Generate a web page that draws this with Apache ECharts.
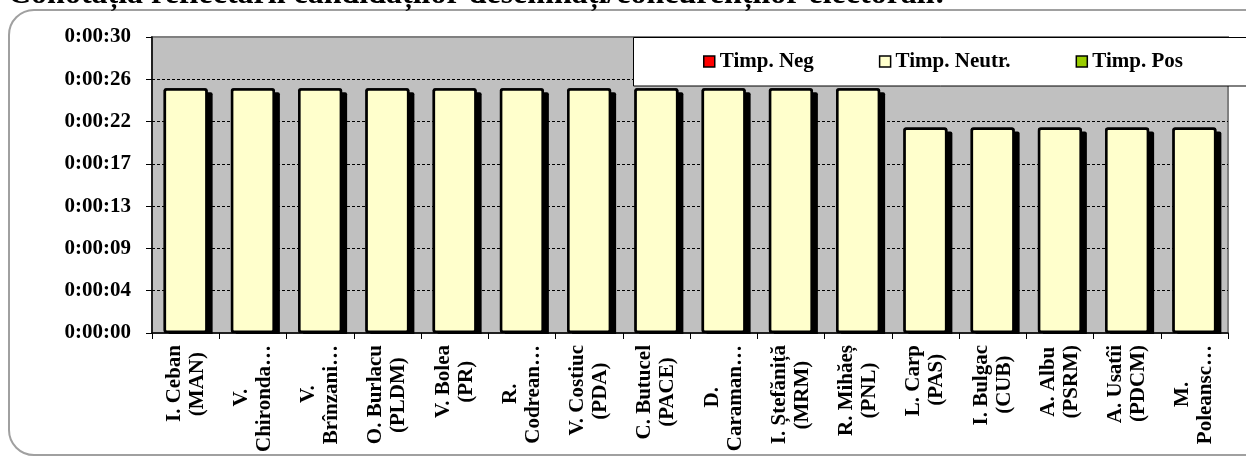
<!DOCTYPE html>
<html>
<head>
<meta charset="utf-8">
<script src="https://cdn.jsdelivr.net/npm/echarts@6/dist/echarts.min.js"></script>
<style>
html,body{margin:0;padding:0;background:#fff;}
#chart{width:1246px;height:456px;}
</style>
</head>
<body>
<div id="chart"></div>
<script>
var titleText = 'Conotația reflectării candidaților desemnați/concurenților electorali:';
var categories = [
  'I. Ceban\n(MAN)', 'V.\nChironda…', 'V.\nBrînzani…', 'O. Burlacu\n(PLDM)',
  'V. Bolea\n(PR)', 'R.\nCodrean…', 'V. Costiuc\n(PDA)', 'C. Butucel\n(PACE)',
  'D.\nCaraman…', 'I. Ștefăniță\n(MRM)', 'R. Mihăeș\n(PNL)', 'L. Carp\n(PAS)',
  'I. Bulgac\n(CUB)', 'A. Albu\n(PSRM)', 'A. Usatîi\n(PDCM)', 'M.\nPoleansc…'
];
var seriesNames = ['Timp. Neg', 'Timp. Neutr.', 'Timp. Pos'];
// values in seconds
var negValues = [0,0,0,0,0,0,0,0,0,0,0,0,0,0,0,0];
var neutrValues = [25,25,25,25,25,25,25,25,25,25,25,21,21,21,21,21];
var posValues = [0,0,0,0,0,0,0,0,0,0,0,0,0,0,0,0];
var yTickLabels = ['0:00:00','0:00:04','0:00:09','0:00:13','0:00:17','0:00:22','0:00:26','0:00:30'];

var yMax = 30.24;
var yInterval = yMax / 7;
var serif = '"Liberation Serif", "Times New Roman", serif';
var xFontSize = 21;

// centre the lines of each (right-aligned, rotated) category label on its longest line
var measureCtx = document.createElement('canvas').getContext('2d');
measureCtx.font = 'bold ' + xFontSize + 'px ' + serif;
var padChar = '\u200A';
var padW = measureCtx.measureText(padChar).width || 1;
function centreLines(v) {
  var lines = String(v).split('\n');
  var widths = lines.map(function (l) { return measureCtx.measureText(l).width; });
  var maxW = Math.max.apply(null, widths);
  return lines.map(function (l, j) {
    var n = Math.round((maxW - widths[j]) / 2 / padW);
    var pad = '';
    for (var k = 0; k < n; k++) pad += padChar;
    return l + pad;
  }).join('\n');
}

var chart = echarts.init(document.getElementById('chart'));
chart.setOption({
  animation: false,
  backgroundColor: '#ffffff',
  title: {
    text: titleText,
    left: 8,
    top: -21,
    padding: 0,
    textStyle: {fontFamily: serif, fontWeight: 'bold', fontSize: 32, color: '#000'}
  },
  graphic: [
    {type: 'rect', z: 0, silent: true,
     shape: {x: 9, y: 10, width: 1270, height: 445, r: 25},
     style: {fill: 'none', stroke: '#a0a0a0', lineWidth: 2}},
    {type: 'rect', z: 3, silent: true,
     shape: {x: 633.5, y: 37.5, width: 640, height: 48.5},
     style: {fill: '#ffffff', stroke: '#000000', lineWidth: 1}},
    {type: 'rect', z: 3, silent: true,
     shape: {x: 153, y: 334, width: 1076, height: 8},
     style: {fill: '#ffffff'}}
  ],
  legend: {
    data: seriesNames,
    left: 703,
    top: 51,
    padding: 0,
    itemGap: 65,
    itemWidth: 11,
    itemHeight: 11,
    icon: 'rect',
    z: 5,
    itemStyle: {borderColor: '#000', borderWidth: 1.5, shadowBlur: 0, shadowOffsetX: 0, shadowOffsetY: 0},
    textStyle: {fontFamily: serif, fontWeight: 'bold', fontSize: 21, color: '#000'}
  },
  grid: {
    left: 152, right: 18, top: 37, bottom: 123,
    show: true,
    backgroundColor: '#c0c0c0',
    borderColor: '#808080',
    borderWidth: 2
  },
  xAxis: {
    type: 'category',
    data: categories,
    z: 4,
    axisLine: {show: true, lineStyle: {color: '#000', width: 1.5}},
    axisTick: {show: true, length: 6, lineStyle: {color: '#000', width: 1}},
    axisLabel: {
      rotate: 90, interval: 0, margin: 12,
      color: '#000', align: 'right',
      fontFamily: serif, fontWeight: 'bold', fontSize: xFontSize, lineHeight: 23,
      formatter: centreLines
    }
  },
  yAxis: {
    type: 'value',
    min: 0,
    max: yMax,
    interval: yInterval,
    axisLine: {show: true, lineStyle: {color: '#000', width: 1.5}},
    axisTick: {show: true, length: 6, lineStyle: {color: '#000', width: 1}},
    splitLine: {show: true, showMinLine: false, showMaxLine: false,
      lineStyle: {color: '#000', width: 1, type: [3, 2]}},
    axisLabel: {
      margin: 21,
      fontFamily: serif, fontWeight: 'bold', fontSize: 21, color: '#000',
      formatter: function (v) { return yTickLabels[Math.round(v / yInterval)]; }
    }
  },
  series: [
    {name: 'shadow', type: 'bar', stack: 'shadow', data: neutrValues, barWidth: 44,
     barGap: '-100%', silent: true, legendHoverLink: false,
     itemStyle: {color: '#000', borderWidth: 0, borderRadius: 2,
       shadowColor: '#000', shadowBlur: 0, shadowOffsetX: 5, shadowOffsetY: 4}},
    {name: seriesNames[0], type: 'bar', stack: 'total', data: negValues, barWidth: 44,
     barGap: '-100%', itemStyle: {color: '#ff0000', borderWidth: 0}},
    {name: seriesNames[1], type: 'bar', stack: 'total', data: neutrValues, barWidth: 44,
     barGap: '-100%',
     itemStyle: {color: '#ffffcc', borderColor: '#000', borderWidth: 2.5, borderRadius: 2}},
    {name: seriesNames[2], type: 'bar', stack: 'total', data: posValues, barWidth: 44,
     barGap: '-100%', itemStyle: {color: '#99cc00', borderWidth: 0}}
  ]
});
</script>
</body>
</html>
